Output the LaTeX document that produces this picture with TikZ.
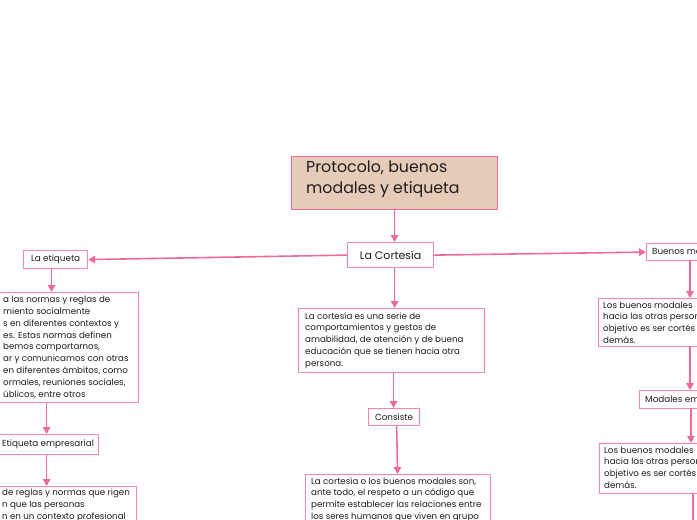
\documentclass[tikz,border=0pt]{standalone}
\usepackage{fontspec}
\setmainfont{Poppins}
\usetikzlibrary{arrows.meta,calc}
\definecolor{boxpink}{HTML}{F286AE}
\definecolor{linkpink}{HTML}{EE6A9C}
\definecolor{titlefill}{HTML}{E6CBB9}
\definecolor{txtcol}{HTML}{1E1E1E}
\begin{document}
\begin{tikzpicture}[x=1pt,y=-1pt,
  box/.style={draw=boxpink, fill=white, line width=1.2pt, anchor=north west, inner sep=0pt},
  link/.style={draw=linkpink, line width=1.6pt, -{Triangle[length=7pt,width=7.5pt]}},
  plain/.style={draw=linkpink, line width=1.6pt},
  lbl/.style={anchor=center, inner sep=0pt, text=txtcol, font=\fontsize{8.8}{10}\selectfont},
  txt/.style={anchor=north west, inner sep=0pt, align=left, text=txtcol, font=\fontsize{8.7}{11.8}\selectfont}]
\useasboundingbox (0,0) rectangle (697,520);
\fill[white] (0,0) rectangle (697,520);

% title
\node[box, draw=linkpink, fill=titlefill, line width=1.3pt, minimum width=206pt, minimum height=53pt] (title) at (291,156) {};
\node[anchor=north west, inner sep=0pt, align=left, text=txtcol, font=\fontsize{15.8}{20.5}\selectfont] (titletxt) at (306,161) {Protocolo, buenos\\modales y etiqueta};

% La Cortesia
\node[box, minimum width=86pt, minimum height=25pt] (cort) at (347,242) {};
\node[lbl, font=\fontsize{11}{12}\selectfont] (cortl) at (cort.center) {La Cortesía};

% left branch
\node[box, minimum width=64pt, minimum height=18pt] (etq) at (23,250) {};
\node[lbl] (etql) at (etq.center) {La etiqueta};
\node[box, minimum width=150pt, minimum height=110pt] (etqb) at (-12,292) {};
\node[txt] (etqt) at (3,296) {a las normas y reglas de\\miento socialmente\\s en diferentes contextos y\\es. Estas normas definen\\bemos comportarnos,\\ar y comunicamos con otras\\en diferentes ámbitos, como\\ormales, reuniones sociales,\\úblicos, entre otros};
\node[box, minimum width=104pt, minimum height=20pt] (emp) at (-6,434) {};
\node[anchor=west, inner sep=0pt, text=txtcol, font=\fontsize{8.8}{10}\selectfont] (empl) at (2,444) {Etiqueta empresarial};
\node[box, minimum width=148pt, minimum height=50pt] (empb) at (-12,486) {};
\node[txt] (empt) at (2,489) {de reglas y normas que rigen\\n que las personas\\n en un contexto profesional};

% center branch
\node[box, minimum width=186pt, minimum height=64pt] (defb) at (298,308) {};
\node[txt] (deft) at (305,312) { La cortesía es una serie de\\comportamientos y gestos de\\amabilidad, de atención y de buena\\educación que se tienen hacia otra\\persona.};
\node[box, minimum width=51pt, minimum height=17pt] (cons) at (368,408) {};
\node[lbl] (consl) at (cons.center) {Consiste};
\node[box, minimum width=185pt, minimum height=60pt] (consb) at (305,474) {};
\node[txt] (const) at (311,477) {La cortesía o los buenos modales son,\\ante todo, el respeto a un código que\\permite establecer las relaciones entre\\los seres humanos que viven en grupo};

% right branch
\node[box, minimum width=60pt, minimum height=17pt] (bm) at (646,243) {};
\node[anchor=west, inner sep=0pt, text=txtcol, font=\fontsize{8.8}{10}\selectfont] (bml) at (652,251.5) {Buenos mo};
\node[box, minimum width=110pt, minimum height=48pt] (bmb) at (598,298) {};
\node[txt] (bmt) at (603,301.5) { Los buenos modales\\hacia las otras person\\objetivo es ser cortés\\demás.};
\node[box, minimum width=70pt, minimum height=18pt] (me) at (639,390) {};
\node[anchor=west, inner sep=0pt, text=txtcol, font=\fontsize{8.8}{10}\selectfont] (mel) at (645,399) {Modales em};
\node[box, minimum width=110pt, minimum height=50pt] (meb) at (599,443) {};
\node[txt] (met) at (604,446.5) { Los buenos modales\\hacia las otras person\\objetivo es ser cortés\\demás.};
\coordinate (tail) at (693,520);

% connectors
\draw[link] (title.south) -- (title.south |- cort.north);
\draw[link] (title.south |- cort.south) -- (title.south |- defb.north);
\draw[link] (cort.west) -- (etq.east);
\draw[link] (cort.east) -- (bm.west);
\draw[link] ($(etq.south)+(-4,0)$) -- ($(etq.south |- etqb.north)+(-4,0)$);
\draw[link] ($(etqb.south)+(-17,0)$) -- ($(etqb.south |- emp.north)+(-17,0)$);
\draw[link] ($(emp.south)+(0,0)$) -- ($(emp.south |- empb.north)+(0,0)$);
\draw[link] ($(defb.south)+(2,0)$) -- ($(defb.south |- cons.north)+(2,0)$);
\draw[link] ($(cons.south)+(2.5,0)$) -- ($(consb.north)+(-0.5,0)$);
\draw[link] (690,260) coordinate (bmbot) -- (bmbot |- bmb.north);
\draw[link] (690,346) coordinate (bmbbot) -- (bmbbot |- me.north);
\draw[link] (691,408) coordinate (mebot) -- (mebot |- meb.north);
\draw[plain] (tail |- meb.south) -- (tail);
\end{tikzpicture}
\end{document}
